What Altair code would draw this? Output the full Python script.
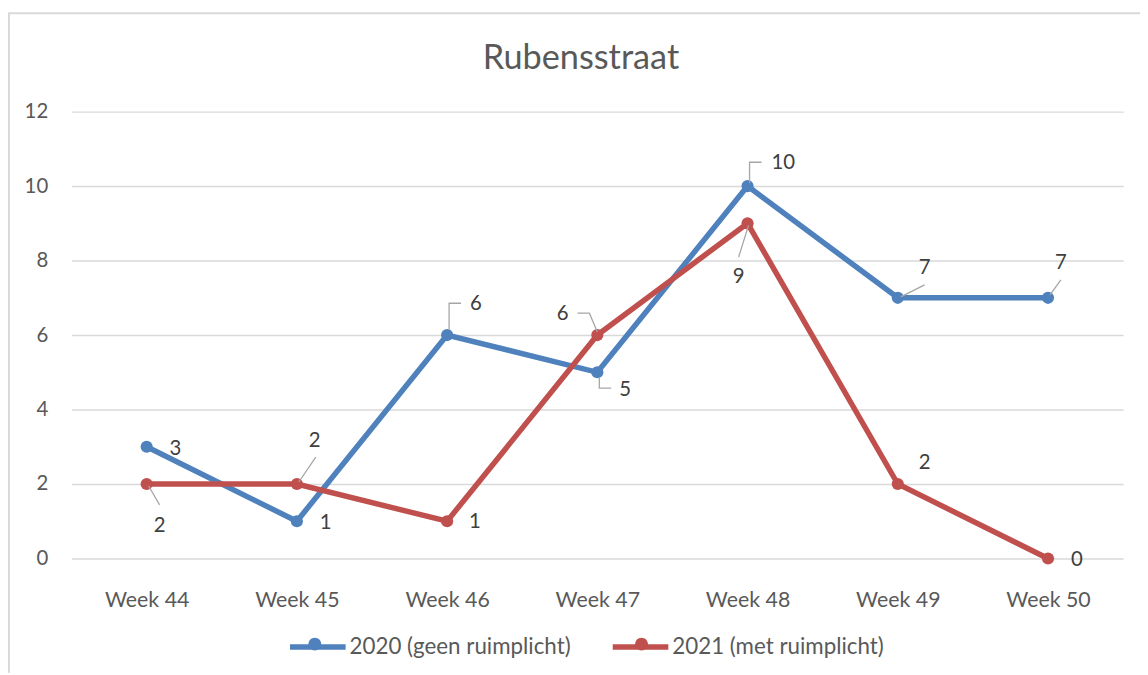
import altair as alt
import pandas as pd

# ---------------- data ----------------
weeks = ["Week 44", "Week 45", "Week 46", "Week 47", "Week 48", "Week 49", "Week 50"]
series_names = ["2020 (geen ruimplicht)", "2021 (met ruimplicht)"]
values_2020 = [3, 1, 6, 5, 10, 7, 7]
values_2021 = [2, 2, 1, 6, 9, 2, 0]
y_ticks = [0, 2, 4, 6, 8, 10, 12]
series_colors = ["#4f81bd", "#c0504d"]
chart_title = "Rubensstraat"

# ---------------- layout (label placement, pixels) ----------------
label_offsets_2020 = [(29, 2), (29, 2), (29, -31), (28, 18), (36, -23), (27, -30), (13, -35)]
label_offsets_2021 = [(13, 42), (18, -43), (28, 1), (-35, -21), (-9, 54), (27, -21), (29, 2)]
# leader lines: (series index, week index, polyline offsets from the point)
leaders = [
    (0, 2, [(2, -5), (2, -32), (14, -32)]),
    (0, 3, [(2, 5), (2, 16), (14, 16)]),
    (0, 4, [(2, -3), (2, -24), (14, -24)]),
    (0, 5, [(3, -1), (27, -13)]),
    (0, 6, [(2, -3), (13, -18)]),
    (1, 0, [(2, 2), (13, 21)]),
    (1, 1, [(2, -2), (19, -27)]),
    (1, 3, [(-20, -22), (-8, -22), (0, -3)]),
    (1, 4, [(1, 2), (-9, 34)]),
]

FONT = "Lato"
TEXT_GREY = "#595959"
GRID = "#d9d9d9"
PX_PER_UNIT = 450 / 12

rows = []
for s, vals, offs in [(series_names[0], values_2020, label_offsets_2020),
                      (series_names[1], values_2021, label_offsets_2021)]:
    for w, v, (dx, dy) in zip(weeks, vals, offs):
        rows.append({"series": s, "week": w, "value": v, "dx": dx, "dy": dy})
df = pd.DataFrame(rows)

leader_rows = []
all_vals = [values_2020, values_2021]
for lid, (si, wi, pts) in enumerate(leaders):
    for k, (ox, oy) in enumerate(pts):
        leader_rows.append({"lid": lid, "k": k, "week": weeks[wi],
                            "value": all_vals[si][wi], "ox": ox, "oy": oy})
ldf = pd.DataFrame(leader_rows)

x_enc = alt.X("week:N", sort=weeks, scale=alt.Scale(type="point", padding=0.5),
              axis=alt.Axis(title=None, labelAngle=0, ticks=False, domain=False, grid=False,
                            labelFont=FONT, labelFontSize=21.5, labelColor=TEXT_GREY,
                            labelPadding=31))
y_scale = alt.Scale(domain=[0, 12], nice=False)
y_enc = alt.Y("value:Q", scale=y_scale,
              axis=alt.Axis(title=None, values=y_ticks, ticks=False, domain=False,
                            grid=True, gridColor=GRID, gridWidth=1.5,
                            labelFont=FONT, labelFontSize=20.5, labelColor=TEXT_GREY,
                            labelPadding=24))

LEG_X, LEG_Y, SYM_SIZE = 217, 508, 3136
line_path = "M-1,0L1,0"
circle_path = "M0.23,0A0.23,0.23,0,1,1,-0.23,0A0.23,0.23,0,1,1,0.23,0Z"

legend_lines = alt.Legend(
    title=None, orient="none", direction="horizontal", legendX=LEG_X, legendY=LEG_Y,
    symbolType=line_path, symbolSize=SYM_SIZE, symbolStrokeWidth=5.5,
    labelFont=FONT, labelFontSize=22.5, labelColor=TEXT_GREY,
    labelOffset=1, columnPadding=31, labelLimit=400,
)
# marker dots of the legend: same grid, no labels of their own
legend_dots = alt.Legend(
    title=None, orient="none", direction="horizontal", legendX=LEG_X, legendY=LEG_Y,
    symbolType=circle_path, symbolSize=SYM_SIZE, symbolStrokeWidth=0,
    labelExpr="''", labelFontSize=22.5, labelOffset=4,
    columnPadding=269, values=series_names,
)

line_scale = alt.Scale(domain=series_names, range=series_colors)
# an unused extra domain entry keeps the dot legend separate from the line legend
dot_scale = alt.Scale(domain=series_names + [" "], range=series_colors + ["#000000"])

base = alt.Chart(df)

lines = base.mark_line(strokeWidth=5.5, strokeCap="round").encode(
    x=x_enc, y=y_enc,
    color=alt.Color("series:N", scale=line_scale, legend=legend_lines),
    order=alt.Order("week:N"))

points = base.mark_point(filled=True, size=150, opacity=1, shape="circle").encode(
    x=x_enc, y=y_enc,
    fill=alt.Fill("series:N", scale=dot_scale, legend=legend_dots))

leader_lines = alt.Chart(ldf).transform_calculate(
    ly=f"datum.value - datum.oy / {PX_PER_UNIT}"
).mark_line(color="#a6a6a6", strokeWidth=1.3).encode(
    x=x_enc,
    y=alt.Y("ly:Q", scale=y_scale),
    xOffset=alt.XOffset("ox:Q", scale=None),
    detail="lid:N", order="k:Q")

labels = base.mark_text(font=FONT, fontSize=20.5, color="#404040",
                        align="center", baseline="middle",
                        dy=alt.expr("datum.dy")).encode(
    x=x_enc, y=y_enc,
    xOffset=alt.XOffset("dx:Q", scale=None),
    text="value:Q")

one = alt.Data(values=[{"a": 1}])
title = alt.Chart(one).mark_text(font=FONT, fontSize=34.5, color=TEXT_GREY,
                                 align="center", baseline="alphabetic",
                                 text=chart_title).encode(
    x=alt.value(513), y=alt.value(-43))

frame_left = alt.Chart(one).mark_rule(color=GRID, strokeWidth=2).encode(
    x=alt.value(-63), y=alt.value(-99), y2=alt.value(565))
frame_top = alt.Chart(one).mark_rule(color=GRID, strokeWidth=2).encode(
    x=alt.value(-64), x2=alt.value(1080), y=alt.value(-99))

chart = alt.layer(frame_left, frame_top, title, lines, points, leader_lines, labels).properties(
    width=1059, height=450,
    padding={"left": 64, "top": 102, "right": 17, "bottom": 115},
    autosize=alt.AutoSizeParams(type="none"),
    background="white",
).configure_view(stroke=None)

chart.save("out.html", embed_options={"renderer": "svg", "actions": False})
